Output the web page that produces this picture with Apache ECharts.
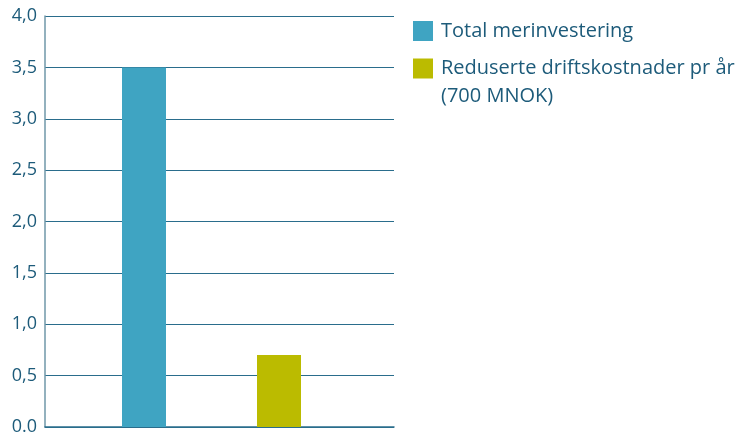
<!DOCTYPE html>
<html>
<head>
<meta charset="utf-8">
<style>html,body{margin:0;padding:0;background:#fff}#c{width:741px;height:436px}</style>
<script src="https://cdn.jsdelivr.net/npm/echarts@6/dist/echarts.min.js"></script>
</head>
<body>
<div id="c"></div>
<script>
const categories = ['Total merinvestering', 'Reduserte driftskostnader pr år\n(700 MNOK)'];
const investValues = [3.5, '-'];
const savingsValues = ['-', 0.7];
const yTickLabels = ['0.0', '0,5', '1,0', '1,5', '2,0', '2,5', '3,0', '3,5', '4,0'];

const textColor = '#1d5b7a';
const lineColor = '#2a6d8c';
const fontFamily = '"Open Sans", "Noto Sans", sans-serif';

const chart = echarts.init(document.getElementById('c'), null, {renderer: 'canvas'});
chart.setOption({
  animation: false,
  grid: [
    {left: 45, right: 347, top: 16, bottom: 9},
    {left: 76.5, width: 270, top: 16, bottom: 9}
  ],
  xAxis: [
    {type: 'category', gridIndex: 0, data: [''], axisLine: {show: true, lineStyle: {color: lineColor, width: 1.5}}, axisTick: {show: false}, axisLabel: {show: false}},
    {type: 'category', gridIndex: 1, data: categories, show: false}
  ],
  yAxis: [
    {type: 'value', gridIndex: 0, min: 0, max: 4, interval: 0.5,
     axisLine: {show: true, lineStyle: {color: '#6f97a8', width: 1.5}},
     axisTick: {show: false},
     splitLine: {show: true, lineStyle: {color: lineColor, width: 1}},
     axisLabel: {color: textColor, fontFamily: fontFamily, fontSize: 18, margin: 8,
       formatter: function (v) { return yTickLabels[Math.round(v / 0.5)]; }}},
    {type: 'value', gridIndex: 1, min: 0, max: 4, show: false}
  ],
  legend: [
    {left: 408, top: 16, orient: 'vertical', itemWidth: 20, itemHeight: 20, icon: 'rect',
     data: [categories[0]],
     textStyle: {color: textColor, fontFamily: fontFamily, fontSize: 20, lineHeight: 20, padding: [0, 0, 0, 3]}},
    {left: 408, top: 21.5, orient: 'vertical', itemWidth: 20, itemHeight: 20, icon: 'rect',
     data: [categories[1]],
     formatter: function (name) { return '\n' + name; },
     textStyle: {color: textColor, fontFamily: fontFamily, fontSize: 20, lineHeight: 28, padding: [0, 0, 0, 3]}}
  ],
  series: [
    {name: categories[0], type: 'bar', xAxisIndex: 1, yAxisIndex: 1, data: investValues,
     barWidth: 44, barGap: '-100%', itemStyle: {color: '#3fa4c2'}},
    {name: categories[1], type: 'bar', xAxisIndex: 1, yAxisIndex: 1, data: savingsValues,
     barWidth: 44, barGap: '-100%', itemStyle: {color: '#bbbb00'}}
  ]
});
</script>
</body>
</html>
